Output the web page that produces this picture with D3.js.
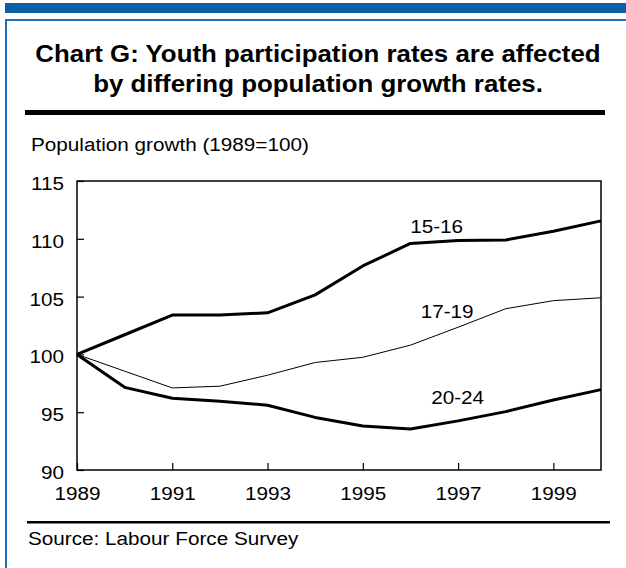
<!DOCTYPE html>
<html>
<head>
<meta charset="utf-8">
<script src="https://cdn.jsdelivr.net/npm/d3@7"></script>
<style>
  html, body { margin: 0; padding: 0; background: #fff; }
  svg { display: block; }
  text { font-family: "Liberation Sans", Arial, Helvetica, sans-serif; fill: #000; }
</style>
</head>
<body>
<svg id="chart" width="626" height="568"></svg>
<script>
// Population index by age group, 1989 = 100
const years = [1989, 1990, 1991, 1992, 1993, 1994, 1995, 1996, 1997, 1998, 1999, 2000];
const age15to16 = [100, 101.7, 103.4, 103.4, 103.6, 105.15, 107.65, 109.6, 109.85, 109.9, 110.65, 111.55];
const age17to19 = [100, 98.55, 97.1, 97.25, 98.2, 99.3, 99.75, 100.8, 102.35, 103.95, 104.65, 104.9];
const age20to24 = [100, 97.15, 96.2, 95.95, 95.6, 94.55, 93.8, 93.55, 94.25, 95.05, 96.05, 96.95];

const xTickValues = [1989, 1991, 1993, 1995, 1997, 1999];
const yTickValues = [90, 95, 100, 105, 110, 115];

const titleLines = ["Chart G: Youth participation rates are affected",
                    "by differing population growth rates."];
const unitLabel = "Population growth (1989=100)";
const sourceNote = "Source: Labour Force Survey";

const series = [
  { name: "15-16", values: age15to16, width: 3, label: [1996.55, 110.48] },
  { name: "17-19", values: age17to19, width: 1, label: [1996.77, 103.15] },
  { name: "20-24", values: age20to24, width: 3, label: [1996.99, 95.7] }
];

const svg = d3.select("#chart");
const fontSize = 19;
const stretch = 1.09;   // glyphs are drawn slightly wide

// Blue banner and panel border
svg.append("rect").attr("x", 5).attr("y", 3).attr("width", 621).attr("height", 10).attr("fill", "#0a5fa8");
svg.append("path").attr("d", "M6,568 V20 H626").attr("fill", "none").attr("stroke", "#1f6fc0").attr("stroke-width", 2);

// Title
titleLines.forEach((t, i) => {
  svg.append("text")
    .attr("transform", `translate(318,${62 + i * 30}) scale(1.125,1)`)
    .attr("text-anchor", "middle")
    .attr("font-size", 23)
    .attr("font-weight", "bold")
    .text(t);
});
svg.append("rect").attr("x", 25).attr("y", 110).attr("width", 580).attr("height", 5).attr("fill", "#000");

// Unit label
svg.append("text")
  .attr("transform", `translate(31,151) scale(${stretch},1)`)
  .attr("font-size", fontSize)
  .text(unitLabel);

// Scales
const plot = { left: 77, right: 601, top: 181, bottom: 470 };
const x = d3.scaleLinear().domain([1989, 2000]).range([plot.left, plot.right]);
const y = d3.scaleLinear().domain([90, 115]).range([plot.bottom, plot.top]);

// Axes
const yAxis = svg.append("g")
  .attr("transform", `translate(${plot.left},0)`)
  .call(d3.axisLeft(y).tickValues(yTickValues).tickSize(-7).tickSizeOuter(0).tickPadding(13));
const xAxis = svg.append("g")
  .attr("transform", `translate(0,${plot.bottom})`)
  .call(d3.axisBottom(x).tickValues(xTickValues).tickSize(-7).tickSizeOuter(0).tickFormat(d3.format("d")));

[yAxis, xAxis].forEach(g => {
  g.select(".domain").remove();
  g.selectAll(".tick line").attr("stroke", "#000").attr("stroke-width", 1.2);
  g.selectAll(".tick text").attr("font-size", fontSize).attr("fill", "#000");
  g.attr("font-family", null).attr("font-size", null);
});
yAxis.selectAll(".tick text")
  .attr("x", null).attr("dy", null)
  .attr("transform", `translate(-13,8.5) scale(${stretch},1)`);
xAxis.selectAll(".tick text")
  .attr("y", null).attr("dy", null)
  .attr("transform", `translate(0,30) scale(${stretch},1)`);

// Plot frame
svg.append("rect")
  .attr("x", plot.left).attr("y", plot.top)
  .attr("width", plot.right - plot.left).attr("height", plot.bottom - plot.top)
  .attr("fill", "none").attr("stroke", "#000").attr("stroke-width", 1.5);

// Lines
const line = d3.line().x((d, i) => x(years[i])).y(d => y(d));
series.forEach(s => {
  svg.append("path")
    .datum(s.values)
    .attr("d", line)
    .attr("fill", "none")
    .attr("stroke", "#000")
    .attr("stroke-width", s.width)
    .attr("stroke-linejoin", "round");
  svg.append("text")
    .attr("transform", `translate(${x(s.label[0])},${y(s.label[1])}) scale(${stretch},1)`)
    .attr("text-anchor", "middle")
    .attr("font-size", fontSize)
    .text(s.name);
});

// Source
svg.append("rect").attr("x", 27).attr("y", 521).attr("width", 583).attr("height", 2.5).attr("fill", "#000");
svg.append("text")
  .attr("transform", `translate(28,545) scale(${stretch},1)`)
  .attr("font-size", fontSize)
  .text(sourceNote);
</script>
</body>
</html>
